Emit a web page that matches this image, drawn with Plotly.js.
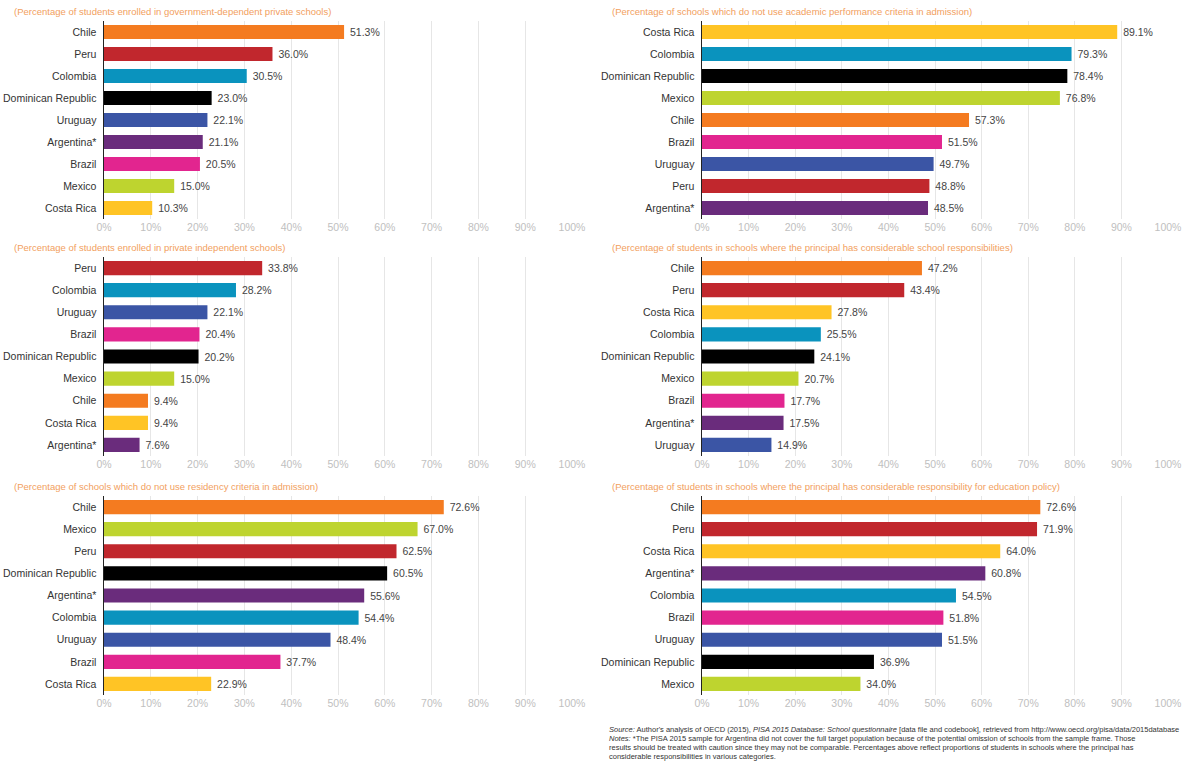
<!DOCTYPE html>
<html>
<head>
<meta charset="utf-8">
<script src="https://cdn.plot.ly/plotly-3.0.1.min.js"></script>
<style>
html,body{margin:0;padding:0;background:#fff;}
#chart{width:1185px;height:763px;}
</style>
</head>
<body>
<div id="chart"></div>
<script>
// ---------- data ----------
const titles = [
  "(Percentage of students enrolled in government-dependent private schools)",
  "(Percentage of schools which do not use academic performance criteria in admission)",
  "(Percentage of students enrolled in private independent schools)",
  "(Percentage of students in schools where the principal has considerable school responsibilities)",
  "(Percentage of schools which do not use residency criteria in admission)",
  "(Percentage of students in schools where the principal has considerable responsibility for education policy)"
];

const countries1 = ["Chile","Peru","Colombia","Dominican Republic","Uruguay","Argentina*","Brazil","Mexico","Costa Rica"];
const values1    = [51.3, 36.0, 30.5, 23.0, 22.1, 21.1, 20.5, 15.0, 10.3];

const countries2 = ["Costa Rica","Colombia","Dominican Republic","Mexico","Chile","Brazil","Uruguay","Peru","Argentina*"];
const values2    = [89.1, 79.3, 78.4, 76.8, 57.3, 51.5, 49.7, 48.8, 48.5];

const countries3 = ["Peru","Colombia","Uruguay","Brazil","Dominican Republic","Mexico","Chile","Costa Rica","Argentina*"];
const values3    = [33.8, 28.2, 22.1, 20.4, 20.2, 15.0, 9.4, 9.4, 7.6];

const countries4 = ["Chile","Peru","Costa Rica","Colombia","Dominican Republic","Mexico","Brazil","Argentina*","Uruguay"];
const values4    = [47.2, 43.4, 27.8, 25.5, 24.1, 20.7, 17.7, 17.5, 14.9];

const countries5 = ["Chile","Mexico","Peru","Dominican Republic","Argentina*","Colombia","Uruguay","Brazil","Costa Rica"];
const values5    = [72.6, 67.0, 62.5, 60.5, 55.6, 54.4, 48.4, 37.7, 22.9];

const countries6 = ["Chile","Peru","Costa Rica","Argentina*","Colombia","Brazil","Uruguay","Dominican Republic","Mexico"];
const values6    = [72.6, 71.9, 64.0, 60.8, 54.5, 51.8, 51.5, 36.9, 34.0];

const tickValues = [0,10,20,30,40,50,60,70,80,90,100];
const tickLabels = ["0%","10%","20%","30%","40%","50%","60%","70%","80%","90%","100%"];

const countryColors = {
  "Chile": "#F47B20",
  "Peru": "#C1272D",
  "Colombia": "#0A93BE",
  "Dominican Republic": "#000000",
  "Uruguay": "#3B55A5",
  "Argentina*": "#6A2C7C",
  "Brazil": "#E2258F",
  "Mexico": "#BED42F",
  "Costa Rica": "#FFC425"
};

// ---------- build ----------
const FONT = "'Liberation Sans',Arial,sans-serif";
const panels = [
  [countries1, values1], [countries2, values2],
  [countries3, values3], [countries4, values4],
  [countries5, values5], [countries6, values6]
];

const W = 1185, H = 763;
const xDomPx = [[104, 572], [702, 1168]];
const yDomPx = [[21, 219], [257, 456], [496, 695]];

const traces = [];
const layout = {
  width: W, height: H,
  margin: {l:0, r:0, t:0, b:0},
  paper_bgcolor: "#fff", plot_bgcolor: "#fff",
  showlegend: false,
  bargap: 0.36,
  font: {family: FONT, size: 10.5, color: "#333"},
  annotations: [],
  shapes: []
};

panels.forEach((p, i) => {
  const col = i % 2, row = Math.floor(i / 2);
  const n = i + 1;
  const xa = "x" + (n === 1 ? "" : n), ya = "y" + (n === 1 ? "" : n);
  const cats = p[0], vals = p[1];
  traces.push({
    type: "bar", orientation: "h",
    y: cats, x: vals,
    xaxis: xa, yaxis: ya,
    marker: {color: cats.map(c => countryColors[c])},
    text: vals.map(v => "\u00a0" + v.toFixed(1) + "%"),
    textposition: "outside",
    textfont: {family: FONT, size: 10.5, color: "#444"},
    cliponaxis: false,
    hoverinfo: "skip"
  });
  const xd = xDomPx[col], yd = yDomPx[row];
  layout["xaxis" + (n === 1 ? "" : n)] = {
    domain: [xd[0] / W, xd[1] / W],
    anchor: ya,
    range: [0, 100],
    tickvals: tickValues, ticktext: tickLabels,
    showgrid: true, gridcolor: "#e6e6e6", gridwidth: 1,
    zeroline: false, showline: false,
    ticks: "", tickfont: {family: FONT, size: 10.5, color: "#c0c0c0"},
    fixedrange: true
  };
  layout["yaxis" + (n === 1 ? "" : n)] = {
    domain: [1 - yd[1] / H, 1 - yd[0] / H],
    anchor: xa,
    type: "category",
    autorange: "reversed",
    showline: true, linecolor: "#222", linewidth: 1.5,
    showgrid: false, zeroline: false,
    ticks: "", ticklabelstandoff: 4,
    tickfont: {family: FONT, size: 10.5, color: "#333"},
    fixedrange: true
  };
  layout.annotations.push({
    xref: "paper", yref: "paper",
    x: (col === 0 ? 12 : 610) / W, y: 1 - (yd[0] - 10) / H,
    xanchor: "left", yanchor: "middle",
    text: titles[i], showarrow: false,
    font: {family: FONT, size: 9.5, color: "#F2A060"}
  });
});

const notes = [
  "<i>Source:</i> Author's analysis of OECD (2015), <i>PISA 2015 Database: School questionnaire</i> [data file and codebook], retrieved from http://www.oecd.org/pisa/data/2015database",
  "<i>Notes:</i> *The PISA 2015 sample for Argentina did not cover the full target population because of the potential omission of schools from the sample frame. Those",
  "results should be treated with caution since they may not be comparable. Percentages above reflect proportions of students in schools where the principal has",
  "considerable responsibilities in various categories."
];
notes.forEach((t, k) => {
  layout.annotations.push({
    xref: "paper", yref: "paper",
    x: 607 / W, y: 1 - (729 + k * 9) / H,
    xanchor: "left", yanchor: "middle",
    text: t, showarrow: false,
    font: {family: FONT, size: 7.5, color: "#333"}
  });
});

Plotly.newPlot("chart", traces, layout, {displayModeBar: false, staticPlot: true});
</script>
</body>
</html>
